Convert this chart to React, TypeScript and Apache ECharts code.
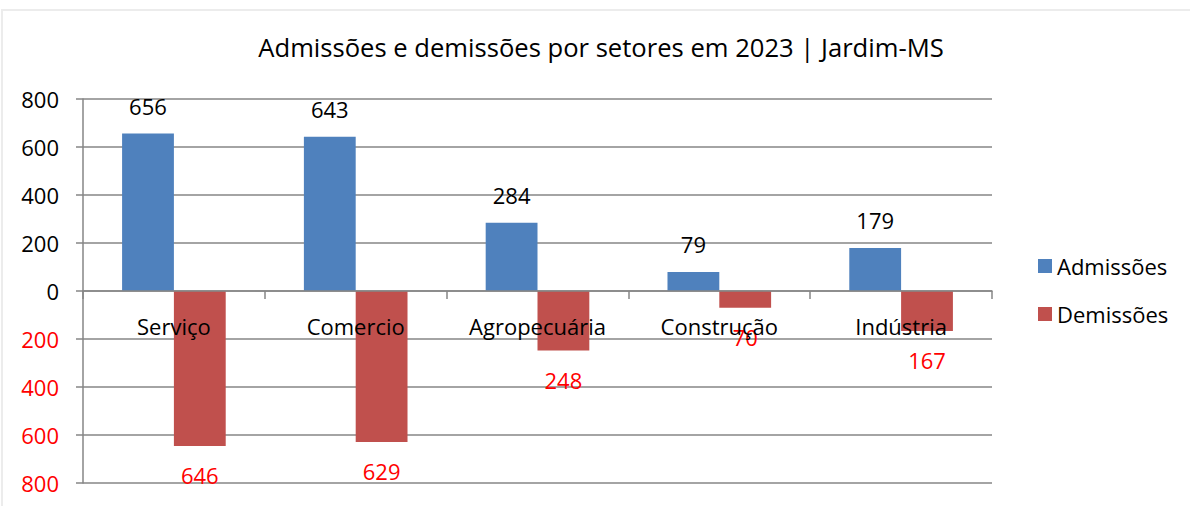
import React, { useEffect, useRef } from "react";
import * as echarts from "echarts";

const categories = ["Serviço", "Comercio", "Agropecuária", "Construção", "Indústria"];
const admissoes = [656, 643, 284, 79, 179];
const demissoes = [-646, -629, -248, -70, -167];
const titleText = "Admissões e demissões por setores em 2023 | Jardim-MS";
const FONT = "Open Sans";
const FS = 22;

export default function App() {
  const ref = useRef<HTMLDivElement>(null);
  useEffect(() => {
    if (!ref.current) return;
    const chart = echarts.init(ref.current, null, { renderer: "svg" });
    chart.setOption({
      animation: false,
      backgroundColor: "#ffffff",
      textStyle: { fontFamily: FONT },
      title: {
        text: titleText,
        left: 596,
        textAlign: "center",
        top: 29,
        textStyle: { fontFamily: FONT, fontSize: 25.6, fontWeight: "normal", color: "#000" },
      },
      graphic: [
        {
          type: "rect",
          shape: { x: 2, y: 10, width: 1300, height: 600 },
          style: { fill: "none", stroke: "#ececec", lineWidth: 2 },
          silent: true,
          z: -10,
        },
      ],
      legend: {
        orient: "vertical",
        left: 1033,
        top: 250,
        itemWidth: 14,
        itemHeight: 14,
        itemGap: 26,
        icon: "rect",
        textStyle: { fontFamily: FONT, fontSize: FS, color: "#000", lineHeight: 22 },
        data: ["Admissões", "Demissões"],
      },
      grid: { left: 83, top: 99, width: 909, height: 384, containLabel: false, outerBoundsMode: "none" },
      xAxis: {
        type: "category",
        data: categories,
        axisLine: { onZero: true, lineStyle: { color: "#868686", width: 1.5 } },
        axisTick: { show: true, length: 8, lineStyle: { color: "#868686", width: 1.5 } },
        axisLabel: { show: false },
        z: 5,
      },
      yAxis: {
        type: "value",
        min: -800,
        max: 800,
        interval: 200,
        axisLine: { show: true, lineStyle: { color: "#868686", width: 1.5 } },
        axisTick: { show: true, length: 7, lineStyle: { color: "#868686", width: 1.5 } },
        splitLine: { show: true, lineStyle: { color: "#868686", width: 1.5 } },
        axisLabel: {
          fontFamily: FONT,
          fontSize: FS,
          margin: 24,
          formatter: (v: number) => (v < 0 ? "{r|" + Math.abs(v) + "}" : "{b|" + v + "}"),
          rich: {
            r: { color: "#ff0000", fontSize: FS, fontFamily: FONT },
            b: { color: "#000000", fontSize: FS, fontFamily: FONT },
          },
        },
      },
      series: [
        {
          name: "Admissões",
          type: "bar",
          data: admissoes,
          barGap: "0%",
          barCategoryGap: "43%",
          itemStyle: { color: "#4F81BD" },
          label: {
            show: true,
            position: "top",
            distance: 17,
            fontFamily: FONT,
            fontSize: FS,
            color: "#000",
          },
        },
        {
          name: "Demissões",
          type: "bar",
          data: demissoes,
          barGap: "0%",
          barCategoryGap: "43%",
          itemStyle: { color: "#C0504D" },
          label: {
            show: true,
            position: "bottom",
            distance: 18,
            fontFamily: FONT,
            fontSize: FS,
            color: "#ff0000",
            formatter: (p: any) => String(Math.abs(p.value)),
          },
        },
        {
          name: "categoryLabels",
          type: "scatter",
          data: categories.map((c) => [c, 0]),
          symbolSize: 1,
          itemStyle: { color: "rgba(0,0,0,0)" },
          silent: true,
          z: 10,
          label: {
            show: true,
            position: "bottom",
            distance: 23,
            fontFamily: FONT,
            fontSize: FS,
            color: "#000",
            opacity: 1,
            formatter: (p: any) => categories[p.dataIndex],
          },
        },
      ],
    });
    return () => chart.dispose();
  }, []);
  return (
    <div
      ref={ref}
      style={{ position: "fixed", left: 0, top: 0, width: 1190, height: 506 }}
    />
  );
}
